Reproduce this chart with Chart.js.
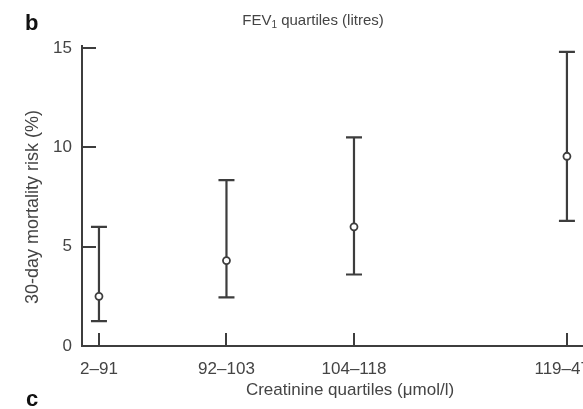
<!DOCTYPE html>
<html>
<head>
<meta charset="utf-8">
<script src="https://cdn.jsdelivr.net/npm/chart.js@4"></script>
<style>
  html, body { margin: 0; padding: 0; background: #fff; }
</style>
</head>
<body>
<canvas id="myChart" width="583" height="409"></canvas>
<script>
// DATA
const groups = ['2–91', '92–103', '104–118', '119–477'];
const groupPos = [1, 2, 3, 4.67];
const risk = [2.5, 4.3, 6.0, 9.55];
const riskLow = [1.25, 2.45, 3.6, 6.3];
const riskHigh = [6.0, 8.35, 10.5, 14.8];
const yTicks = [0, 5, 10, 15];

const ink = '#3d3d3d';
const textInk = '#444';
const fontName = '"Liberation Sans", Arial, sans-serif';

// error bars, inward ticks and the labels round the plot
const decor = {
  id: 'decor',
  beforeDatasetsDraw(chart) {
    const ctx = chart.ctx;
    const xs = chart.scales.x;
    const ys = chart.scales.y;
    ctx.save();
    ctx.strokeStyle = ink;
    ctx.lineWidth = 2.2;
    for (let i = 0; i < risk.length; i++) {
      const px = xs.getPixelForValue(groupPos[i]);
      const top = ys.getPixelForValue(riskHigh[i]);
      const bot = ys.getPixelForValue(riskLow[i]);
      ctx.beginPath();
      ctx.moveTo(px, top);
      ctx.lineTo(px, bot);
      ctx.moveTo(px - 8, top);
      ctx.lineTo(px + 8, top);
      ctx.moveTo(px - 8, bot);
      ctx.lineTo(px + 8, bot);
      ctx.stroke();
    }
    ctx.restore();
  },
  afterDraw(chart) {
    const ctx = chart.ctx;
    const xs = chart.scales.x;
    const ys = chart.scales.y;
    const area = chart.chartArea;
    ctx.save();
    ctx.strokeStyle = ink;
    ctx.lineWidth = 2;
    ctx.beginPath();
    yTicks.forEach(v => {
      const py = Math.round(ys.getPixelForValue(v));
      ctx.moveTo(area.left, py);
      ctx.lineTo(area.left + 14, py);
    });
    groupPos.forEach(v => {
      const px = Math.round(xs.getPixelForValue(v));
      ctx.moveTo(px, area.bottom);
      ctx.lineTo(px, area.bottom - 13);
    });
    ctx.stroke();

    // panel letters
    ctx.fillStyle = '#111';
    ctx.font = 'bold 22px ' + fontName;
    ctx.textBaseline = 'alphabetic';
    ctx.textAlign = 'left';
    ctx.fillText('b', 25, 30);
    ctx.fillText('c', 26, 406);

    // top title with subscript
    ctx.fillStyle = textInk;
    const big = '15px ' + fontName;
    const small = '10px ' + fontName;
    ctx.font = big;
    const w1 = ctx.measureText('FEV').width;
    const w3 = ctx.measureText(' quartiles (litres)').width;
    ctx.font = small;
    const w2 = ctx.measureText('1').width;
    let tx = 313 - (w1 + w2 + w3) / 2;
    ctx.font = big;
    ctx.fillText('FEV', tx, 25);
    ctx.font = small;
    ctx.fillText('1', tx + w1, 28);
    ctx.font = big;
    ctx.fillText(' quartiles (litres)', tx + w1 + w2, 25);

    // axis titles
    ctx.font = '17px ' + fontName;
    ctx.textAlign = 'center';
    ctx.textBaseline = 'middle';
    ctx.fillText('Creatinine quartiles (μmol/l)', 350, 390);
    ctx.font = '18px ' + fontName;
    ctx.translate(33, 207);
    ctx.rotate(-Math.PI / 2);
    ctx.fillText('30-day mortality risk (%)', 0, 0);
    ctx.restore();
  }
};

const points = groupPos.map((p, i) => ({ x: p, y: risk[i] }));

const myChart = new Chart(document.getElementById('myChart'), {
  type: 'scatter',
  data: {
    datasets: [{
      data: points,
      pointStyle: 'circle',
      pointRadius: 3.5,
      pointBackgroundColor: '#fff',
      pointBorderColor: ink,
      pointBorderWidth: 1.8
    }]
  },
  options: {
    responsive: false,
    animation: false,
    devicePixelRatio: 1,
    layout: { autoPadding: false, padding: { top: 46, left: 0, right: 0, bottom: 0 } },
    plugins: {
      legend: { display: false },
      tooltip: { enabled: false }
    },
    scales: {
      x: {
        type: 'linear',
        min: 0.867,
        max: 4.796,
        grid: { display: false, drawTicks: false },
        border: { display: true, color: ink, width: 2 },
        afterBuildTicks: s => { s.ticks = groupPos.map(v => ({ value: v })); },
        afterFit: s => { s.height = 63; s.paddingLeft = 0; s.paddingRight = 0; },
        ticks: {
          autoSkip: false,
          maxRotation: 0,
          padding: 13,
          color: textInk,
          font: { family: fontName, size: 17 },
          callback: (v, i) => groups[i]
        }
      },
      y: {
        type: 'linear',
        min: 0,
        max: 15.1,
        grid: { display: false, drawTicks: false },
        border: { display: true, color: ink, width: 2 },
        afterBuildTicks: s => { s.ticks = yTicks.map(v => ({ value: v })); },
        afterFit: s => { s.width = 82; },
        ticks: {
          padding: 10,
          color: textInk,
          font: { family: fontName, size: 17 }
        }
      }
    }
  },
  plugins: [decor]
});
</script>
</body>
</html>
